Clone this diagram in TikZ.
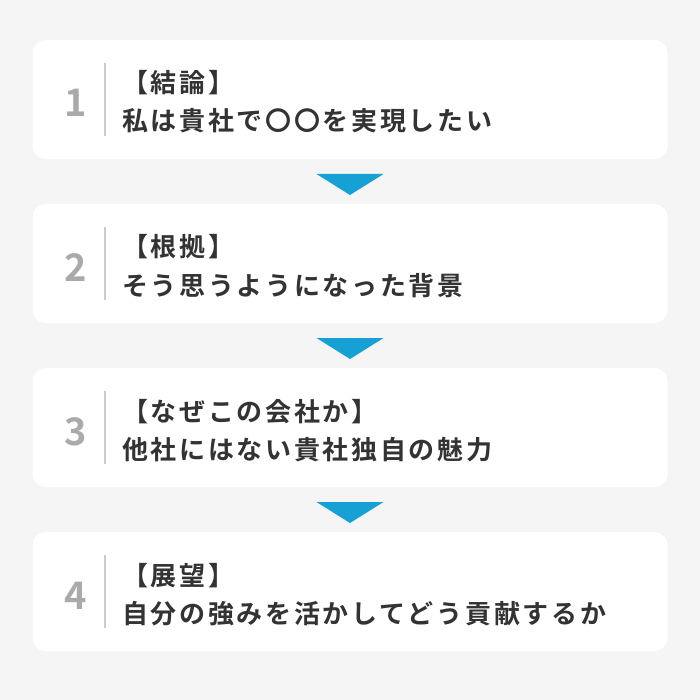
\documentclass[tikz,border=0pt]{standalone}
\usepackage{fontspec}
\newfontfamily\jpfont{Noto Sans CJK JP}[BoldFont={Noto Sans CJK JP Bold}, LetterSpace=10.3]
\newfontfamily\numfont{Noto Sans CJK JP Bold}
\definecolor{pagegray}{HTML}{F5F5F5}
\definecolor{numgray}{HTML}{AAAAAA}
\definecolor{rulegray}{HTML}{CCCCCC}
\definecolor{textdark}{HTML}{333333}
\definecolor{arrowblue}{HTML}{16A0D3}
\begin{document}
\begin{tikzpicture}[x=1pt,y=-1pt]
	\tikzstyle{every node}+=[inner sep=0pt, outer sep=0pt]
	\tikzstyle{card}=[fill=white, rounded corners=13pt, minimum width=635pt, minimum height=119pt]
	\tikzstyle{stepnum}=[anchor=base, text=numgray, font=\numfont\fontsize{38}{38}\selectfont]
	\tikzstyle{steptext}=[anchor=base west, text=textdark, font=\jpfont\bfseries\fontsize{26}{26}\selectfont]
	\fill [pagegray] (0,0) rectangle (700,700);
	\useasboundingbox (0,0) rectangle (700,700);
	\node (box1) [card] at (350,99.5) {};
	\node (num1) [stepnum] at (76,117) {1};
	\draw [rulegray, line width=1.3pt] (105,63) -- (105,136);
	\node (head1) [steptext] at (122,93) {【結論】};
	\node (body1) [steptext] at (122,131) {私は貴社で〇〇を実現したい};
	\fill [arrowblue] (316.5,174) -- (383.5,174) -- (350,195);
	\node (box2) [card] at (350,263.5) {};
	\node (num2) [stepnum] at (76,281) {2};
	\draw [rulegray, line width=1.3pt] (105,227) -- (105,300);
	\node (head2) [steptext] at (122,257) {【根拠】};
	\node (body2) [steptext] at (122,295) {そう思うようになった背景};
	\fill [arrowblue] (316.5,338) -- (383.5,338) -- (350,359);
	\node (box3) [card] at (350,427.5) {};
	\node (num3) [stepnum] at (76,445) {3};
	\draw [rulegray, line width=1.3pt] (105,391) -- (105,464);
	\node (head3) [steptext] at (122,421) {【なぜこの会社か】};
	\node (body3) [steptext] at (122,459) {他社にはない貴社独自の魅力};
	\fill [arrowblue] (316.5,502) -- (383.5,502) -- (350,523);
	\node (box4) [card] at (350,591.5) {};
	\node (num4) [stepnum] at (76,609) {4};
	\draw [rulegray, line width=1.3pt] (105,555) -- (105,628);
	\node (head4) [steptext] at (122,585) {【展望】};
	\node (body4) [steptext] at (122,623) {自分の強みを活かしてどう貢献するか};
\end{tikzpicture}
\end{document}
